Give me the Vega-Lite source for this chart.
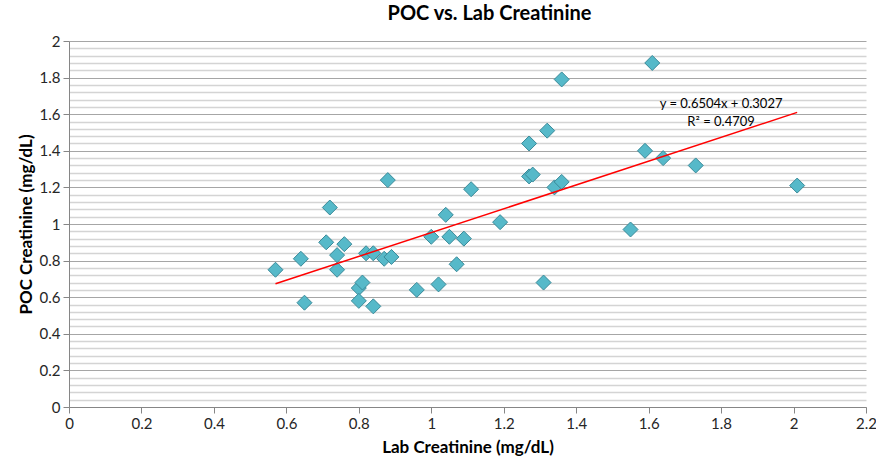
{
  "$schema": "https://vega.github.io/schema/vega-lite/v6.json",
  "width": 797,
  "height": 366,
  "autosize": "none",
  "padding": {"left": 69, "top": 41, "right": 10, "bottom": 57},
  "background": "white",
  "config": {
    "font": "Lato",
    "view": {"stroke": null}
  },
  "title": {
    "text": "POC vs. Lab Creatinine",
    "font": "Lato",
    "fontSize": 20,
    "fontWeight": "bold",
    "color": "#000000",
    "anchor": "middle",
    "dx": 22,
    "offset": 10
  },
  "datasets": {
    "points": [
      {"lab": 0.57, "poc": 0.75},
      {"lab": 0.64, "poc": 0.81},
      {"lab": 0.65, "poc": 0.57},
      {"lab": 0.71, "poc": 0.90},
      {"lab": 0.72, "poc": 1.09},
      {"lab": 0.74, "poc": 0.83},
      {"lab": 0.74, "poc": 0.75},
      {"lab": 0.76, "poc": 0.89},
      {"lab": 0.80, "poc": 0.65},
      {"lab": 0.81, "poc": 0.68},
      {"lab": 0.80, "poc": 0.58},
      {"lab": 0.82, "poc": 0.84},
      {"lab": 0.84, "poc": 0.84},
      {"lab": 0.84, "poc": 0.55},
      {"lab": 0.87, "poc": 0.81},
      {"lab": 0.89, "poc": 0.82},
      {"lab": 0.88, "poc": 1.24},
      {"lab": 0.96, "poc": 0.64},
      {"lab": 1.00, "poc": 0.93},
      {"lab": 1.02, "poc": 0.67},
      {"lab": 1.04, "poc": 1.05},
      {"lab": 1.05, "poc": 0.93},
      {"lab": 1.07, "poc": 0.78},
      {"lab": 1.09, "poc": 0.92},
      {"lab": 1.11, "poc": 1.19},
      {"lab": 1.19, "poc": 1.01},
      {"lab": 1.27, "poc": 1.44},
      {"lab": 1.27, "poc": 1.26},
      {"lab": 1.28, "poc": 1.27},
      {"lab": 1.31, "poc": 0.68},
      {"lab": 1.32, "poc": 1.51},
      {"lab": 1.34, "poc": 1.20},
      {"lab": 1.36, "poc": 1.23},
      {"lab": 1.36, "poc": 1.79},
      {"lab": 1.55, "poc": 0.97},
      {"lab": 1.59, "poc": 1.40},
      {"lab": 1.61, "poc": 1.88},
      {"lab": 1.64, "poc": 1.36},
      {"lab": 1.73, "poc": 1.32},
      {"lab": 2.01, "poc": 1.21}
    ],
    "trend": [
      {"lab": 0.57, "poc": 0.6734},
      {"lab": 2.01, "poc": 1.6100}
    ],
    "labels": [
      {"lab": 1.80, "poc": 1.656, "text": "y = 0.6504x + 0.3027"},
      {"lab": 1.80, "poc": 1.556, "text": "R² = 0.4709"}
    ]
  },
  "layer": [
    {
      "data": {"name": "points"},
      "mark": {"type": "point", "shape": "diamond", "filled": true, "size": 225, "fill": "#56b9c9", "stroke": "#3a8a99", "strokeWidth": 1, "opacity": 1},
      "encoding": {
        "x": {
          "field": "lab", "type": "quantitative",
          "scale": {"domain": [0, 2.2], "nice": false, "zero": true},
          "axis": {
            "title": "Lab Creatinine (mg/dL)",
            "titleFont": "Lato", "titleFontSize": 17, "titleFontWeight": "bold", "titleColor": "#000000",
            "titlePadding": 8,
            "values": [0, 0.2, 0.4, 0.6, 0.8, 1, 1.2, 1.4, 1.6, 1.8, 2, 2.2],
            "tickCount": 20,
            "format": ".1~f",
            "labelFont": "Lato", "labelFontSize": 15, "labelColor": "#262626",
            "labelPadding": 3,
            "labelFlush": false,
            "grid": false,
            "domainColor": "#868686", "tickColor": "#868686", "tickSize": 6
          }
        },
        "y": {
          "field": "poc", "type": "quantitative",
          "scale": {"domain": [0, 2], "nice": false, "zero": true},
          "axis": {
            "title": "POC Creatinine (mg/dL)",
            "titleFont": "Lato", "titleFontSize": 17, "titleFontWeight": "bold", "titleColor": "#000000",
            "titlePadding": 4,
            "values": [0, 0.04, 0.08, 0.12, 0.16, 0.2, 0.24, 0.28, 0.32, 0.36, 0.4, 0.44, 0.48, 0.52, 0.56, 0.6, 0.64, 0.68, 0.72, 0.76, 0.8, 0.84, 0.88, 0.92, 0.96, 1, 1.04, 1.08, 1.12, 1.16, 1.2, 1.24, 1.28, 1.32, 1.36, 1.4, 1.44, 1.48, 1.52, 1.56, 1.6, 1.64, 1.68, 1.72, 1.76, 1.8, 1.84, 1.88, 1.92, 1.96, 2],
            "tickCount": 100,
            "labelExpr": "abs(datum.value*5 - round(datum.value*5)) < 0.01 ? format(datum.value, '.1~f') : ''",
            "labelOverlap": false,
            "labelFont": "Lato", "labelFontSize": 15, "labelColor": "#262626",
            "labelPadding": 3,
            "labelFlush": false,
            "grid": true,
            "gridColor": {"condition": {"test": "abs(datum.value*5 - round(datum.value*5)) < 0.01", "value": "#a6a6a6"}, "value": "#d4d4d4"},
            "gridWidth": {"condition": {"test": "abs(datum.value*5 - round(datum.value*5)) < 0.01", "value": 1}, "value": 1.5},
            "tickOpacity": {"condition": {"test": "abs(datum.value*5 - round(datum.value*5)) < 0.01", "value": 1}, "value": 0},
            "domainColor": "#868686", "tickColor": "#868686", "tickSize": 6
          }
        }
      }
    },
    {
      "data": {"name": "trend"},
      "mark": {"type": "line", "color": "#ff0000", "strokeWidth": 1.5},
      "encoding": {
        "x": {"field": "lab", "type": "quantitative"},
        "y": {"field": "poc", "type": "quantitative"}
      }
    },
    {
      "data": {"name": "labels"},
      "mark": {"type": "text", "font": "Lato", "fontSize": 13, "color": "#000000", "align": "center", "baseline": "middle"},
      "encoding": {
        "x": {"field": "lab", "type": "quantitative"},
        "y": {"field": "poc", "type": "quantitative"},
        "text": {"field": "text"}
      }
    }
  ]
}
